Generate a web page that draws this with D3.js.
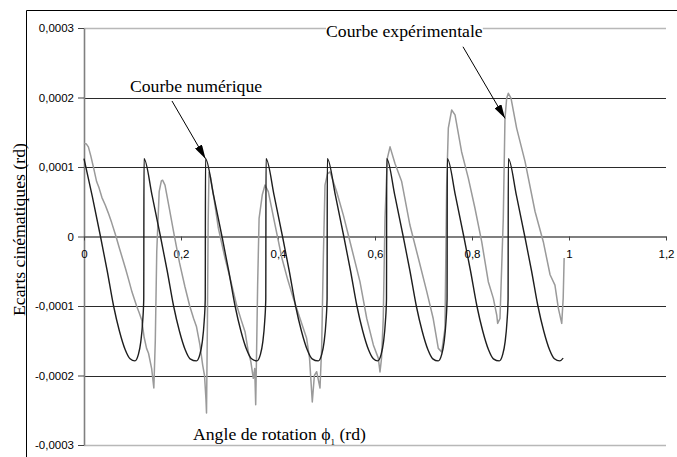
<!DOCTYPE html>
<html>
<head>
<meta charset="utf-8">
<script src="https://cdn.jsdelivr.net/npm/d3@7"></script>
<style>
  html, body { margin: 0; padding: 0; background: #fff; }
  svg { display: block; }
</style>
</head>
<body>
<svg id="chart" width="677" height="457"></svg>
<script>
// Axis ticks and labels (French decimal comma)
const xTicks = [0, 0.2, 0.4, 0.6, 0.8, 1, 1.2];
const xTickLabels = ["0", "0,2", "0,4", "0,6", "0,8", "1", "1,2"];
const yTicks = [0.0003, 0.0002, 0.0001, 0, -0.0001, -0.0002, -0.0003];
const yTickLabels = ["0,0003", "0,0002", "0,0001", "0", "-0,0001", "-0,0002", "-0,0003"];

// Numerical curve (courbe numérique): angle (rd), kinematic error (rd)
const numX = [
  0, 0.017, 0.034, 0.048, 0.061, 0.073, 0.085, 0.095, 0.105, 0.112, 0.117, 0.121, 0.1232,
  0.1237, 0.1407, 0.1577, 0.1717, 0.1847, 0.1967, 0.2087, 0.2187, 0.2318, 0.2388, 0.2438, 0.2478, 0.2500,
  0.2505, 0.2675, 0.2845, 0.2985, 0.3115, 0.3235, 0.3355, 0.3455, 0.3566, 0.3636, 0.3686, 0.3726, 0.3748,
  0.3753, 0.3923, 0.4093, 0.4233, 0.4363, 0.4483, 0.4603, 0.4703, 0.4830, 0.4900, 0.4950, 0.4990, 0.5012,
  0.5017, 0.5187, 0.5357, 0.5497, 0.5627, 0.5747, 0.5867, 0.5967, 0.6055, 0.6125, 0.6175, 0.6215, 0.6237,
  0.6242, 0.6412, 0.6582, 0.6722, 0.6852, 0.6972, 0.7092, 0.7192, 0.7304, 0.7374, 0.7424, 0.7464, 0.7486,
  0.7491, 0.7661, 0.7831, 0.7971, 0.8101, 0.8221, 0.8341, 0.8441, 0.8562, 0.8632, 0.8682, 0.8722, 0.8744,
  0.8749, 0.8919, 0.9089, 0.9229, 0.9359, 0.9479, 0.9599, 0.9699, 0.9810, 0.9880
];
const numY = [
  1.12e-4, 0.58e-4, 0, -0.50e-4, -1.00e-4, -1.36e-4, -1.63e-4, -1.76e-4, -1.79e-4, -1.70e-4, -1.52e-4, -1.22e-4, -0.90e-4,
  1.12e-4, 0.58e-4, 0, -0.50e-4, -1.00e-4, -1.36e-4, -1.63e-4, -1.76e-4, -1.79e-4, -1.70e-4, -1.52e-4, -1.22e-4, -0.90e-4,
  1.12e-4, 0.58e-4, 0, -0.50e-4, -1.00e-4, -1.36e-4, -1.63e-4, -1.76e-4, -1.79e-4, -1.70e-4, -1.52e-4, -1.22e-4, -0.90e-4,
  1.12e-4, 0.58e-4, 0, -0.50e-4, -1.00e-4, -1.36e-4, -1.63e-4, -1.76e-4, -1.79e-4, -1.70e-4, -1.52e-4, -1.22e-4, -0.90e-4,
  1.12e-4, 0.58e-4, 0, -0.50e-4, -1.00e-4, -1.36e-4, -1.63e-4, -1.76e-4, -1.79e-4, -1.70e-4, -1.52e-4, -1.22e-4, -0.90e-4,
  1.12e-4, 0.58e-4, 0, -0.50e-4, -1.00e-4, -1.36e-4, -1.63e-4, -1.76e-4, -1.79e-4, -1.70e-4, -1.52e-4, -1.22e-4, -0.90e-4,
  1.12e-4, 0.58e-4, 0, -0.50e-4, -1.00e-4, -1.36e-4, -1.63e-4, -1.76e-4, -1.79e-4, -1.70e-4, -1.52e-4, -1.22e-4, -0.90e-4,
  1.12e-4, 0.58e-4, 0, -0.50e-4, -1.00e-4, -1.36e-4, -1.63e-4, -1.76e-4, -1.79e-4, -1.75e-4
];

// Experimental curve (courbe expérimentale)
const expX = [
  0.000, 0.005, 0.009, 0.014, 0.020, 0.026, 0.031, 0.037, 0.044, 0.050, 0.057, 0.066, 0.073, 0.080, 0.086, 0.092, 0.099,
  0.1085, 0.114, 0.119, 0.124, 0.129, 0.133, 0.1395, 0.144, 0.147, 0.150, 0.155, 0.1595, 0.162,
  0.167, 0.176, 0.186, 0.197, 0.208, 0.218, 0.226, 0.232, 0.239, 0.2447, 0.2485, 0.2515, 0.2526, 0.2545, 0.2560, 0.2577,
  0.261, 0.268, 0.277, 0.2907, 0.302, 0.3148, 0.324, 0.332, 0.3388, 0.344, 0.349, 0.352, 0.354, 0.356, 0.358, 0.361, 0.3676, 0.3732,
  0.380, 0.394, 0.408, 0.420, 0.4316, 0.4454, 0.459, 0.465, 0.4707, 0.475, 0.4797, 0.4866, 0.490, 0.4935, 0.4969, 0.502, 0.5072,
  0.521, 0.535, 0.5485, 0.569, 0.583, 0.5966, 0.6068, 0.6103, 0.6135, 0.617, 0.6206, 0.6254, 0.631,
  0.6412, 0.655, 0.672, 0.6893, 0.7066, 0.720, 0.7305, 0.7375, 0.7443, 0.7478, 0.7512, 0.7581, 0.765,
  0.7785, 0.7924, 0.806, 0.820, 0.8336, 0.844, 0.851, 0.8529, 0.8577, 0.8645, 0.868, 0.8715, 0.8749,
  0.8804, 0.892, 0.9093, 0.930, 0.947, 0.961, 0.971, 0.978, 0.985, 0.988, 0.990
];
const expY = [
  1.34e-4, 1.33e-4, 1.29e-4, 1.16e-4, 0.98e-4, 0.79e-4, 0.70e-4, 0.56e-4, 0.45e-4, 0.34e-4, 0.20e-4, 0.00, -0.17e-4, -0.33e-4, -0.47e-4, -0.62e-4, -0.80e-4,
  -1.00e-4, -1.10e-4, -1.20e-4, -1.45e-4, -1.61e-4, -1.68e-4, -1.90e-4, -2.18e-4, -1.50e-4, -0.22e-4, 0.645e-4, 0.80e-4, 0.81e-4,
  0.74e-4, 0.40e-4, 0.02e-4, -0.38e-4, -0.72e-4, -1.00e-4, -1.18e-4, -1.30e-4, -1.56e-4, -1.85e-4, -2.00e-4, -2.35e-4, -2.54e-4, -1.20e-4, 0.20e-4, 0.92e-4,
  0.85e-4, 0.55e-4, 0.12e-4, -0.31e-4, -0.62e-4, -0.99e-4, -1.20e-4, -1.37e-4, -1.66e-4, -1.80e-4, -2.04e-4, -1.90e-4, -2.42e-4, -1.60e-4, -0.70e-4, 0.26e-4, 0.60e-4, 0.74e-4,
  0.645e-4, 0.165e-4, -0.31e-4, -0.62e-4, -0.89e-4, -1.18e-4, -1.465e-4, -1.75e-4, -2.38e-4, -2.00e-4, -1.945e-4, -2.18e-4, -1.60e-4, -0.30e-4, 0.74e-4, 0.90e-4, 0.93e-4,
  0.645e-4, 0.30e-4, -0.075e-4, -0.65e-4, -1.18e-4, -1.56e-4, -1.75e-4, -1.95e-4, -1.75e-4, -1.18e-4, 0.26e-4, 1.125e-4, 1.29e-4,
  1.05e-4, 0.79e-4, 0.165e-4, -0.31e-4, -0.79e-4, -1.18e-4, -1.61e-4, -1.66e-4, -1.32e-4, 0.74e-4, 1.56e-4, 1.82e-4, 1.75e-4,
  1.22e-4, 0.84e-4, 0.41e-4, -0.075e-4, -0.65e-4, -0.89e-4, -1.13e-4, -1.25e-4, -1.18e-4, 0.26e-4, 1.70e-4, 1.99e-4, 2.06e-4,
  1.99e-4, 1.56e-4, 1.08e-4, 0.36e-4, -0.075e-4, -0.55e-4, -0.70e-4, -1.03e-4, -1.25e-4, -0.89e-4, -0.31e-4
];

// Annotations: label anchor, arrow tail and arrow tip in data units
const annotations = [
  { text: "Courbe numérique", tx: 0.0948, ty: 2.08e-4, fx: 0.1814, fy: 1.95e-4, ax: 0.2505, ay: 1.12e-4, boxed: false },
  { text: "Courbe expérimentale", tx: 0.499, ty: 2.87e-4, fx: 0.7814, fy: 2.73e-4, ax: 0.868, ay: 1.70e-4, boxed: true }
];

const svg = d3.select("#chart");
const serif = "'Liberation Serif', 'Times New Roman', Times, serif";
const sans = "'Liberation Sans', Arial, Helvetica, sans-serif";

const x = d3.scaleLinear().domain([0, 1.2]).range([84, 666]);
const y = d3.scaleLinear().domain([-0.0003, 0.0003]).range([445, 28]);

svg.append("rect").attr("width", 677).attr("height", 457).attr("fill", "#fff");

// Chart frame
svg.append("path")
  .attr("d", "M26.5,457 L26.5,10.5 L677,10.5")
  .attr("fill", "none").attr("stroke", "#000").attr("stroke-width", 1);

// Horizontal gridlines
const yMax = d3.max(yTicks), yMin = d3.min(yTicks);
svg.append("g").selectAll("line")
  .data(yTicks.filter(d => d !== 0))
  .join("line")
  .attr("x1", x(0)).attr("x2", x(1.2))
  .attr("y1", d => Math.round(y(d)) + 0.5).attr("y2", d => Math.round(y(d)) + 0.5)
  .attr("stroke", d => (d === yMax || d === yMin) ? "#b8b8b8" : "#2a2a2a")
  .attr("stroke-width", d => (d === yMax || d === yMin) ? 1.5 : 1);

// Y axis
const yAxis = svg.append("g")
  .attr("transform", `translate(${x(0)},0)`)
  .call(d3.axisLeft(y).tickValues(yTicks).tickFormat((d, i) => yTickLabels[i])
    .tickSize(6).tickSizeOuter(0).tickPadding(4));
yAxis.select(".domain").attr("stroke", "#808080").attr("stroke-width", 1.6);
yAxis.selectAll(".tick line").attr("stroke", "#444");
yAxis.selectAll("text").attr("font-family", sans).attr("font-size", 11.5).attr("fill", "#000");

// X axis along zero
const xAxis = svg.append("g")
  .attr("transform", `translate(0,${y(0)})`)
  .call(d3.axisBottom(x).tickValues(xTicks).tickFormat((d, i) => xTickLabels[i])
    .tickSize(4).tickSizeOuter(0).tickPadding(9));
xAxis.select(".domain").attr("stroke", "#555").attr("stroke-width", 1.3);
xAxis.selectAll(".tick line").attr("stroke", "#444");
xAxis.selectAll("text").attr("font-family", sans).attr("font-size", 11.5).attr("fill", "#000");

// Curves
const numData = numX.map((v, i) => [v, numY[i]]);
const expData = expX.map((v, i) => [v, expY[i]]);

svg.append("path")
  .datum(expData)
  .attr("fill", "none").attr("stroke", "#9a9a9a").attr("stroke-width", 1.5)
  .attr("stroke-linejoin", "round")
  .attr("d", d3.line().x(d => x(d[0])).y(d => y(d[1])).curve(d3.curveLinear));

svg.append("path")
  .datum(numData)
  .attr("fill", "none").attr("stroke", "#1e1e1e").attr("stroke-width", 1.4)
  .attr("stroke-linejoin", "round")
  .attr("d", d3.line().x(d => x(d[0])).y(d => y(d[1])).curve(d3.curveMonotoneX));

// Arrowhead marker
svg.append("defs").append("marker")
  .attr("id", "arrow")
  .attr("markerUnits", "userSpaceOnUse")
  .attr("viewBox", "0 0 14 8")
  .attr("markerWidth", 14).attr("markerHeight", 8)
  .attr("refX", 14).attr("refY", 4)
  .attr("orient", "auto")
  .append("path").attr("d", "M0,0 L14,4 L0,8 Z").attr("fill", "#000");

// Annotation labels and arrows
annotations.forEach(a => {
  const g = svg.append("g");
  const t = g.append("text")
    .attr("x", x(a.tx)).attr("y", y(a.ty))
    .attr("font-family", serif).attr("font-size", 17.7).attr("fill", "#000")
    .text(a.text);
  if (a.boxed) {
    const b = t.node().getBBox();
    g.insert("rect", "text")
      .attr("x", b.x).attr("y", b.y).attr("width", b.width).attr("height", b.height)
      .attr("fill", "#fff");
  }
  svg.append("line")
    .attr("x1", x(a.fx)).attr("y1", y(a.fy))
    .attr("x2", x(a.ax)).attr("y2", y(a.ay))
    .attr("stroke", "#000").attr("stroke-width", 1)
    .attr("marker-end", "url(#arrow)");
});

// Axis titles
const xt = svg.append("text")
  .attr("x", 193).attr("y", 440)
  .attr("font-family", serif).attr("font-size", 17.7).attr("fill", "#000");
xt.append("tspan").text("Angle de rotation ");
xt.append("tspan").text("\u03D5");
xt.append("tspan").attr("font-size", 9).attr("dy", 5).text("1");
xt.append("tspan").attr("dy", -5).text(" (rd)");

svg.append("text")
  .attr("transform", "translate(25,316) rotate(-90)")
  .attr("font-family", serif).attr("font-size", 17.7).attr("fill", "#000")
  .text("Ecarts cinématiques (rd)");
</script>
</body>
</html>
